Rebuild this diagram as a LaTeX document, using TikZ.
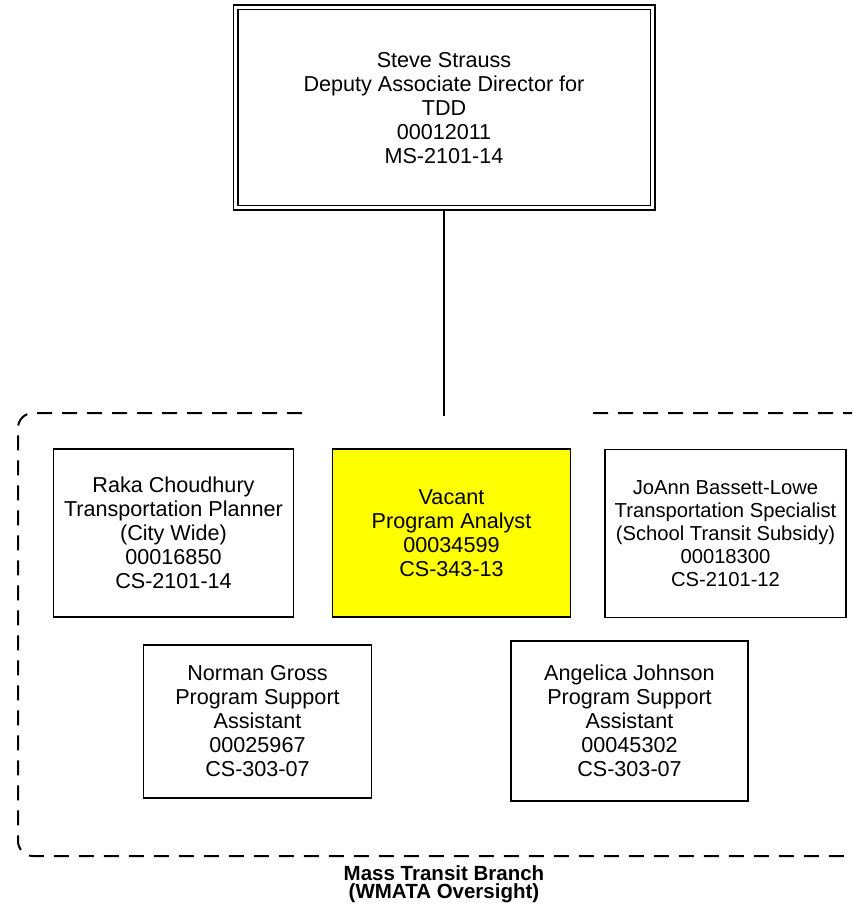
\documentclass[tikz,border=0pt]{standalone}
\usepackage{fontspec}
\setmainfont{Liberation Sans}
\definecolor{vacantyellow}{HTML}{FFFF00}
\begin{document}
\begin{tikzpicture}[x=1pt,y=-1pt,
  box/.style={draw=black, line width=1.6pt, rectangle, inner sep=0pt, align=center, fill=white,
    font=\fontsize{21.6}{24}\selectfont},
  smallbox/.style={box, font=\fontsize{20.2}{23}\selectfont},
  topbox/.style={box, double=white, double distance=3pt, line width=1.5pt},
  vacantbox/.style={box, fill=vacantyellow},
  container/.style={draw=black, line width=2pt, dash pattern=on 15pt off 10pt, rounded corners=15pt},
  grouplabel/.style={align=center, inner sep=0pt, font=\fontsize{20.5}{18.5}\selectfont\bfseries},
  link/.style={draw=black, line width=1.8pt}
]
\useasboundingbox (0,0) rectangle (852,909);
\clip (0,0) rectangle (852,909);

% dashed branch container (open at the top middle)
\coordinate (gapL) at (302,413);
\coordinate (gapR) at (586,413);
\draw[container] (gapL) -- (18,413) -- (18,856) -- (866,856) -- (866,413) -- (gapR);

% top box
\node[topbox, minimum width=417pt, minimum height=200.5pt] (director) at (444,107.75)
  {Steve Strauss\\Deputy Associate Director for\\TDD\\00012011\\MS-2101-14};

\coordinate (branchtop) at (444,416);
\draw[link] (director.south) -- (branchtop);

% first row
\node[box, minimum width=240pt, minimum height=168pt] (raka) at (173.5,533)
  {Raka Choudhury\\Transportation Planner\\(City Wide)\\00016850\\CS-2101-14};
\node[vacantbox, minimum width=238pt, minimum height=168pt] (vacant) at (451.5,533)
  {Vacant\\Program Analyst\\00034599\\CS-343-13};
\node[smallbox, minimum width=241pt, minimum height=168pt] (joann) at (725.5,533.5)
  {JoAnn Bassett-Lowe\\Transportation Specialist\\(School Transit Subsidy)\\00018300\\CS-2101-12};

% second row
\node[box, minimum width=228pt, minimum height=153pt] (norman) at (257.5,721.5)
  {Norman Gross\\Program Support\\Assistant\\00025967\\CS-303-07};
\node[box, minimum width=237pt, minimum height=160pt] (angelica) at (629.5,721)
  {Angelica Johnson\\Program Support\\Assistant\\00045302\\CS-303-07};

% branch label
\node[grouplabel] (branchlabel) at (444,884)
  {Mass Transit Branch\\(WMATA Oversight)};
\end{tikzpicture}
\end{document}
